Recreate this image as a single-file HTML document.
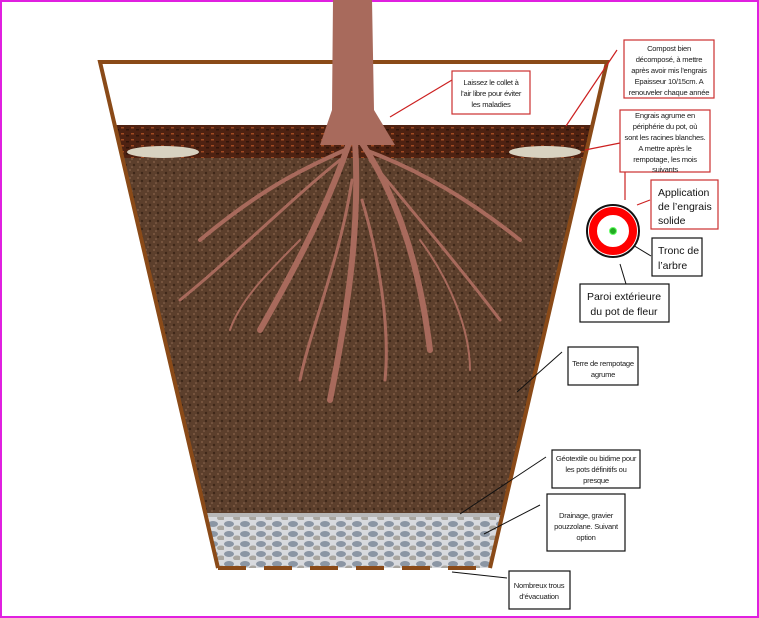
<!DOCTYPE html>
<html><head><meta charset="utf-8"><style>
html,body{margin:0;padding:0;background:#fff}
svg{display:block}
text{font-family:"Liberation Sans",sans-serif;font-size:7.6px;letter-spacing:-0.25px;fill:#222}
.b{font-family:"Liberation Sans",sans-serif;font-size:10.5px;letter-spacing:0;fill:#111}
</style></head><body>
<svg width="759" height="618" viewBox="0 0 759 618" xmlns="http://www.w3.org/2000/svg">
<defs>
<pattern id="soil" width="8" height="8" patternUnits="userSpaceOnUse">
<rect width="8" height="8" fill="#5c3f2c"/>
<circle cx="2" cy="2" r="1" fill="#7e5a44"/><circle cx="6" cy="5" r="1.2" fill="#3e2719"/><circle cx="4" cy="7" r=".8" fill="#8a6650"/>
</pattern>
<pattern id="mulch" width="10" height="6" patternUnits="userSpaceOnUse">
<rect width="10" height="6" fill="#4e2212"/><rect x="1" y="1" width="3" height="1.5" fill="#a04a22"/><rect x="6" y="3" width="3" height="1.5" fill="#2e1409"/>
</pattern>
<pattern id="grav" width="16" height="10" patternUnits="userSpaceOnUse">
<rect width="16" height="10" fill="#d8dade"/><ellipse cx="5" cy="4" rx="5" ry="3" fill="#8b96a4"/><ellipse cx="13" cy="8" rx="4" ry="2.5" fill="#a9a6a0"/>
</pattern>
</defs>
<rect x="1" y="1" width="757" height="616" fill="#fff" stroke="#e020e0" stroke-width="2"/>
<polygon points="114.7,125 592.4,125 584.8,158 122.4,158" fill="url(#mulch)"/>
<polygon points="122.4,158 584.8,158 502.3,515 205.6,515" fill="url(#soil)"/>
<polygon points="207,515 500,515 490,568 218,568" fill="url(#grav)"/>
<rect x="207" y="513" width="292" height="4" fill="#b8b8b8"/>
<ellipse cx="163" cy="152" rx="36" ry="6" fill="#d8d2c0"/>
<ellipse cx="545" cy="152" rx="36" ry="6" fill="#d8d2c0"/>
<polyline points="218,568 100,62 607,62 490,568" fill="none" stroke="#8a4a18" stroke-width="4"/>
<line x1="218" y1="568" x2="490" y2="568" stroke="#8a4a18" stroke-width="4" stroke-dasharray="28,18"/>
<path d="M333,0 L372,0 L374,110 L395,145 L320,145 L332,110 Z" fill="#a86a5c"/>
<g stroke="#a86a5c" fill="none" stroke-linecap="round">
<path d="M350,140 C330,200 300,260 260,330" stroke-width="6"/>
<path d="M355,140 C360,220 350,300 330,400" stroke-width="6"/>
<path d="M360,140 C400,200 420,270 430,350" stroke-width="6"/>
<path d="M345,150 C300,170 260,190 200,240" stroke-width="4"/>
<path d="M365,150 C420,170 470,200 520,240" stroke-width="4"/>
<path d="M340,160 C290,200 230,260 180,300" stroke-width="3"/>
<path d="M370,160 C420,220 470,280 500,320" stroke-width="3"/>
<path d="M352,180 C340,260 310,330 300,380" stroke-width="3"/>
<path d="M362,200 C380,260 390,330 385,380" stroke-width="3"/>
<path d="M300,240 C270,270 240,300 230,330" stroke-width="2"/>
<path d="M420,240 C450,280 470,330 470,370" stroke-width="2"/>
</g>
<g stroke="#cc2020" stroke-width="1.2" fill="none">
<line x1="390" y1="117" x2="452" y2="80"/>
<line x1="566" y1="126" x2="617" y2="50"/>
<line x1="585" y1="150" x2="620" y2="143"/>
<line x1="625" y1="172" x2="625" y2="200"/>
<line x1="637" y1="205" x2="650" y2="200"/>
</g>
<g stroke="#111" stroke-width="1" fill="none">
<line x1="613" y1="233" x2="651" y2="256"/>
<line x1="620" y1="264" x2="626" y2="284"/>
<line x1="517" y1="392" x2="562" y2="352"/>
<line x1="460" y1="514" x2="546" y2="457"/>
<line x1="484" y1="534" x2="540" y2="505"/>
<line x1="452" y1="572" x2="507" y2="578"/>
</g>
<circle cx="613" cy="231" r="26" fill="#fff" stroke="#111" stroke-width="2"/>
<circle cx="613" cy="231" r="20" fill="none" stroke="#f00" stroke-width="8"/>
<circle cx="613" cy="231" r="3.5" fill="#2a2" stroke="#6f6" stroke-width="1"/>
<g fill="#fff" stroke="#cc3030" stroke-width="1.2">
<rect x="452" y="71" width="78" height="43"/>
<rect x="624" y="40" width="90" height="58"/>
<rect x="620" y="110" width="90" height="62"/>
<rect x="651" y="180" width="67" height="49"/>
</g>
<g fill="#fff" stroke="#111" stroke-width="1.2">
<rect x="652" y="238" width="50" height="38"/>
<rect x="580" y="284" width="89" height="38"/>
<rect x="568" y="347" width="70" height="38"/>
<rect x="552" y="450" width="88" height="38"/>
<rect x="547" y="494" width="78" height="57"/>
<rect x="509" y="571" width="61" height="38"/>
</g>
<g text-anchor="middle">
<text x="491" y="85">Laissez le collet  à</text><text x="491" y="96">l'air libre pour éviter</text><text x="491" y="107">les maladies</text>
<text x="669" y="51">Compost bien</text><text x="669" y="62">décomposé, à mettre</text><text x="669" y="73">après avoir mis l'engrais</text><text x="669" y="84">Epaisseur 10/15cm. A</text><text x="669" y="95">renouveler chaque année</text>
<text x="665" y="118">Engrais agrume en</text><text x="665" y="129">périphérie du pot, où</text><text x="665" y="140">sont les racines blanches.</text><text x="665" y="151">A mettre après le</text><text x="665" y="162">rempotage, les mois</text><text x="665" y="172">suivants</text>
<text x="603" y="366">Terre de rempotage</text><text x="603" y="377">agrume</text>
<text x="596" y="461">Géotextile ou bidime pour</text><text x="596" y="472">les pots définitifs ou</text><text x="596" y="483">presque</text>
<text x="586" y="518">Drainage, gravier</text><text x="586" y="529">pouzzolane. Suivant</text><text x="586" y="540">option</text>
<text x="539" y="588">Nombreux trous</text><text x="539" y="599">d'évacuation</text>
</g>
<text class="b" x="658" y="196">Application</text><text class="b" x="658" y="210">de l’engrais</text><text class="b" x="658" y="224">solide</text>
<text class="b" x="658" y="254">Tronc de</text><text class="b" x="658" y="269">l’arbre</text>
<text class="b" x="624" y="300" text-anchor="middle">Paroi extérieure</text><text class="b" x="624" y="315" text-anchor="middle">du pot de fleur</text>
</svg>
</body></html>
